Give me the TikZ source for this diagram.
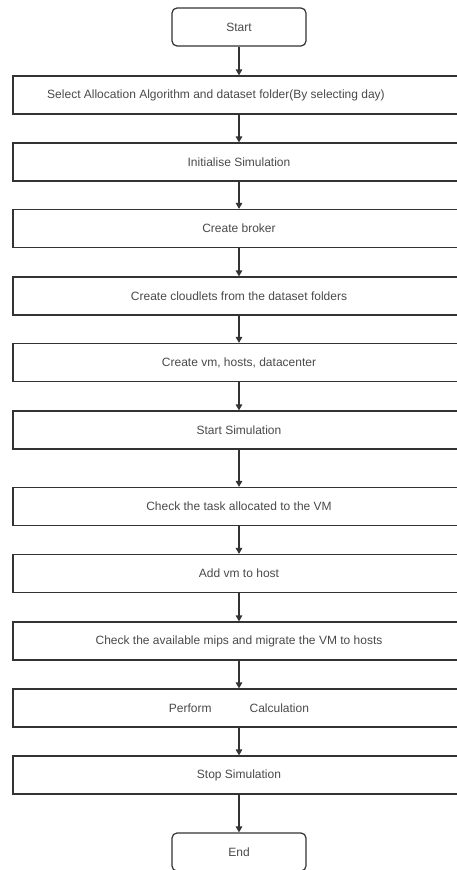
\documentclass[tikz,border=0pt]{standalone}
\usepackage{fontspec}
\setmainfont{Liberation Sans}
\usetikzlibrary{arrows.meta}
\definecolor{edge}{HTML}{333333}
\definecolor{txt}{HTML}{4A4A4A}
\begin{document}
\begin{tikzpicture}[x=1pt,y=-1pt,
  stepbox/.style={draw=edge, line width=1.2pt, rectangle, minimum width=452pt, minimum height=38pt, inner sep=0pt, text=txt, font=\fontsize{12}{14}\selectfont},
  termbox/.style={draw=edge, line width=1.2pt, rectangle, rounded corners=5pt, minimum width=134pt, minimum height=38pt, inner sep=0pt, text=txt, font=\fontsize{12}{14}\selectfont},
  flow/.style={draw=edge, line width=1.2pt, -{Triangle[width=6.5pt,length=6pt]}}]
\useasboundingbox (0,0) rectangle (457,870);
\clip (0,0) rectangle (457,870);
\fill[white] (0,0) rectangle (457,870);
\node[termbox] (start) at (239,27) {Start};
% the first label sits a little left of the box centre
\node[stepbox] (s1) at (239,95) {\hspace*{-46pt}Select Allocation Algorithm and dataset folder(By selecting day)};
\node[stepbox] (s2) at (239,162) {Initialise Simulation};
\node[stepbox] (s3) at (239,228.5) {Create broker};
\node[stepbox] (s4) at (239,296) {Create cloudlets from the dataset folders};
\node[stepbox] (s5) at (239,362.5) {Create vm, hosts, datacenter};
\node[stepbox] (s6) at (239,430) {Start Simulation};
\node[stepbox] (s7) at (239,506.5) {Check the task allocated to the VM};
\node[stepbox] (s8) at (239,573.5) {Add vm to host};
\node[stepbox] (s9) at (239,641) {Check the available mips and migrate the VM to hosts};
\node[stepbox] (s10) at (239,708) {Perform\hspace{38pt}Calculation};
\node[stepbox] (s11) at (239,775) {Stop Simulation};
\node[termbox] (end) at (239,852) {End};
\draw[flow] (start) -- (s1);
\draw[flow] (s1) -- (s2);
\draw[flow] (s2) -- (s3);
\draw[flow] (s3) -- (s4);
\draw[flow] (s4) -- (s5);
\draw[flow] (s5) -- (s6);
\draw[flow] (s6) -- (s7);
\draw[flow] (s7) -- (s8);
\draw[flow] (s8) -- (s9);
\draw[flow] (s9) -- (s10);
\draw[flow] (s10) -- (s11);
\draw[flow] (s11) -- (end);
\end{tikzpicture}
\end{document}
